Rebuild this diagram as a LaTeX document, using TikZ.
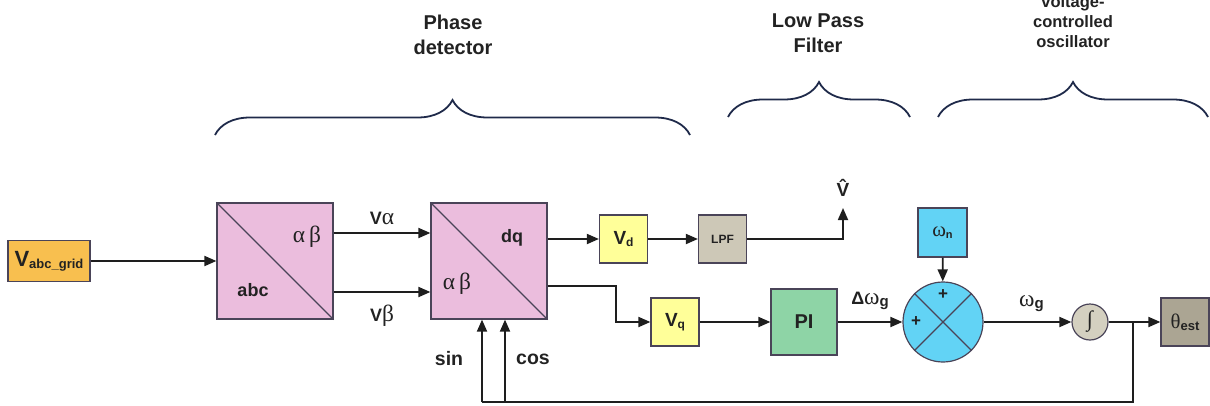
\documentclass[tikz,border=0pt]{standalone}
\usepackage{fontspec}
\setmainfont{Liberation Sans}
\newfontfamily\grkfont[Scale=1.3]{Liberation Serif}
\usetikzlibrary{arrows.meta,decorations.pathreplacing,calc}

\definecolor{edgegray}{HTML}{4A4458}
\definecolor{wire}{HTML}{1E1E1E}
\definecolor{navy}{HTML}{1F2A4A}
\definecolor{inkgray}{HTML}{222222}
\definecolor{gridorange}{HTML}{F8BF4F}
\definecolor{pinkblk}{HTML}{EBBDDD}
\definecolor{yellowblk}{HTML}{FFFF99}
\definecolor{lpfgray}{HTML}{CDC8B7}
\definecolor{pigreen}{HTML}{8ED4A6}
\definecolor{cyanblk}{HTML}{62D3F5}
\definecolor{integgray}{HTML}{D4D0C0}
\definecolor{thetagray}{HTML}{ABA593}

% greek letters in a serif face, subscripts lowered a bit
\newcommand\grtxt[1]{{\grkfont\mdseries #1}}
\newcommand\lsub[2]{\raisebox{-2pt}{\fontsize{#1}{#1}\selectfont #2}}

\begin{document}
\begin{tikzpicture}[x=1pt,y=-1pt,
  blk/.style={draw=edgegray, line width=1.2pt, inner sep=0pt, text=inkgray},
  conn/.style={line width=1.8pt, draw=wire},
  arr/.style={conn, -{Triangle[length=12pt,width=10pt]}},
  brc/.style={draw=navy, line width=1.8pt, decorate, decoration={brace,amplitude=35pt}},
  lbl/.style={font=\fontsize{18}{20}\selectfont\bfseries, inner sep=0pt, text=inkgray},
  ttl/.style={font=\fontsize{20}{25}\selectfont\bfseries, align=center, text=inkgray},
]
\useasboundingbox (0,0) rectangle (1210,405);

  % Headings and braces
  \node[ttl] (phase) at (453,34.5) {Phase\\detector};
  \node[ttl] (lowpass) at (818,33) {Low Pass\\Filter};
  \node[ttl, font=\fontsize{16.5}{20}\selectfont\bfseries] (vco) at (1073,22) {voltage-\\controlled\\oscillator};
  \draw[brc] (215,135) -- (690,135);
  \draw[brc] (728,117) -- (910,117);
  \draw[brc] (938,117) -- (1208,117);

  % Input
  \node[blk, fill=gridorange, minimum width=82pt, minimum height=41pt,
        font=\fontsize{22}{22}\selectfont\bfseries] (vgrid) at (49,261) {V\lsub{13}{abc\_grid}};

  % abc -> alpha beta
  \node[blk, fill=pinkblk, minimum size=116pt] (abc) at (275,261) {};
  \draw[draw=edgegray, line width=1.2pt] (abc.north west) -- (abc.south east);
  \node[lbl] (abcab) at ($(abc)+(32,-24)$) {\grtxt{α\,β}};
  \node[lbl] (abcin) at ($(abc)+(-22,29)$) {abc};

  % alpha beta -> dq
  \node[blk, fill=pinkblk, minimum size=116pt] (ad) at (489,261) {};
  \draw[draw=edgegray, line width=1.2pt] (ad.north west) -- (ad.south east);
  \node[lbl] (addq) at ($(ad)+(23,-23)$) {dq};
  \node[lbl] (adab) at ($(ad)+(-32,23)$) {\grtxt{α\,β}};

  % d and q parts
  \node[blk, fill=yellowblk, minimum size=48pt, font=\fontsize{19}{19}\selectfont\bfseries] (vd) at (623.5,239) {V\lsub{12}{d}};
  \node[blk, fill=lpfgray, minimum size=48pt, font=\fontsize{12}{12}\selectfont\bfseries] (lpf) at (722.5,239) {LPF};
  \node[blk, fill=yellowblk, minimum size=48pt, font=\fontsize{19}{19}\selectfont\bfseries] (vq) at (675,322) {V\lsub{12}{q}};
  \node[blk, fill=pigreen, minimum size=66pt, font=\fontsize{20}{20}\selectfont\bfseries] (pi) at (804,322) {PI};

  % VCO
  \node[blk, circle, fill=cyanblk, minimum size=80pt] (sum) at (943,322) {};
  \draw[draw=edgegray, line width=1.2pt] (sum.north west) -- (sum.south east);
  \draw[draw=edgegray, line width=1.2pt] (sum.north east) -- (sum.south west);
  \node[lbl, font=\fontsize{17}{17}\selectfont\bfseries] (plustop) at ($(sum)+(0,-27)$) {+};
  \node[lbl, font=\fontsize{17}{17}\selectfont\bfseries] (plusleft) at ($(sum)+(-27,0)$) {+};
  \node[blk, fill=cyanblk, minimum size=49pt, font=\fontsize{16}{16}\selectfont\bfseries] (wn) at (942.5,232.5) {\grtxt{ω}\lsub{11}{n}};
  \node[blk, circle, fill=integgray, minimum size=36pt, font=\fontsize{17}{17}\selectfont] (integ) at (1090,322) {\grtxt{∫}};
  \node[blk, fill=thetagray, minimum size=48pt, font=\fontsize{16}{16}\selectfont\bfseries] (theta) at (1185,322) {\grtxt{θ}\lsub{13}{est}};

  \coordinate (vhat) at (843,208);
  \node[lbl, font=\fontsize{19}{19}\selectfont\bfseries] (vhatlbl) at (843,188) {\^{V}};
  \coordinate (jn) at (1133,322);
  \coordinate (fb) at (1133,402);
  \coordinate (sinb) at (482,402);
  \coordinate (cosb) at (505,402);
  \node[lbl, font=\fontsize{19.5}{20}\selectfont\bfseries] (sinlbl) at (449,359) {sin};
  \node[lbl, font=\fontsize{19.5}{20}\selectfont\bfseries] (coslbl) at (533,359) {cos};

  % Connections
  \draw[arr] (vgrid) -- (abc);
  \draw[arr] ([yshift=28pt]abc.east) -- ([yshift=28pt]ad.west)
    node[lbl, midway, above=7pt] (valpha) {V\grtxt{α}};
  \draw[arr] ([yshift=-31pt]abc.east) -- ([yshift=-31pt]ad.west)
    node[lbl, midway, below=12pt] (vbeta) {V\grtxt{β}};
  \draw[arr] (ad.east |- vd) -- (vd);
  \draw[arr] (vd) -- (lpf);
  \draw[arr] (lpf) -| (vhat);
  \draw[arr] ([yshift=-25pt]ad.east) -- ++(68,0) |- (vq);
  \draw[arr] (vq) -- (pi);
  \draw[arr] (pi) -- (sum)
    node[lbl, midway, above=11pt] (dwg) {Δ\grtxt{ω}\lsub{15}{g}};
  \draw[arr] (wn) -- (sum);
  \draw[arr] (sum) -- (integ)
    node[lbl, midway, above=9pt, xshift=4pt] (wg) {\grtxt{ω}\lsub{15}{g}};
  \draw[arr] (integ) -- (theta);

  % Feedback to sin / cos
  \draw[conn] (jn) -- (fb) -- (sinb);
  \draw[arr] (sinb) -- (sinb |- ad.south);
  \draw[arr] (cosb) -- (cosb |- ad.south);

\end{tikzpicture}
\end{document}
